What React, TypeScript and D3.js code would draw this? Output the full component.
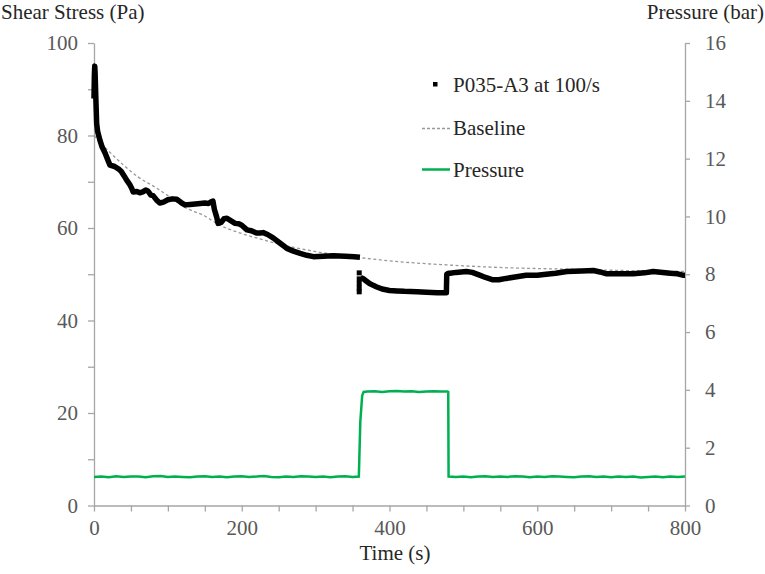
import React, { useEffect, useRef } from 'react'
import * as d3 from 'd3'

// Shear stress (Pa), before the pressure step
const shearTime1 = [0, 0.5, 1, 1.5, 2.5, 3.6, 5, 8, 11, 15, 18, 21.6, 28, 33, 37, 41, 44, 48, 51, 53, 58, 62, 66, 70, 73, 77, 80, 85, 89, 94, 100, 106, 112, 118, 123, 130, 137, 144, 150, 155, 159, 161, 163, 166, 168, 172, 176, 180, 185, 191, 196, 200, 207, 213, 220, 225, 229, 235, 243, 248, 252, 257, 261, 270, 279, 288, 297, 310, 324, 340, 352, 360]
const shearValue1 = [88, 93, 95, 93.5, 88, 82.6, 80.8, 79, 77.5, 76.2, 75, 73.6, 73.3, 72.8, 72.2, 71.2, 70.4, 69.5, 68.6, 67.8, 67.9, 67.6, 67.8, 68.2, 68.0, 67.1, 67.0, 66.0, 65.4, 65.6, 66.1, 66.3, 66.2, 65.5, 65, 65.1, 65.2, 65.3, 65.4, 65.3, 65.7, 65.8, 64, 62.4, 61, 61.2, 62, 62.1, 61.6, 61, 60.9, 60.6, 59.6, 59.4, 58.9, 58.9, 59, 58.6, 57.8, 57.2, 56.7, 56.1, 55.6, 55, 54.5, 54.1, 53.8, 53.9, 54, 53.9, 53.8, 53.7]

// isolated points at the start of the step
const shearDotTime = [359, 359, 359, 359, 359]
const shearDotValue = [50.3, 49, 48, 47, 46.2]

// after the step
const shearTime2 = [361, 364, 368, 373, 378, 382, 390, 400, 410, 420, 437, 450, 465, 477, 477.5, 480, 482, 490, 504, 512, 522, 530, 540, 548, 558, 570, 585, 600, 612, 625, 640, 660, 676, 685, 694, 710, 730, 745, 757, 770, 780, 790, 797, 800]
const shearValue2 = [49.3, 49.1, 48.6, 48, 47.6, 47.3, 46.8, 46.5, 46.4, 46.3, 46.2, 46.1, 46, 46, 50, 50.2, 50.2, 50.4, 50.6, 50.4, 49.8, 49.3, 48.8, 48.8, 49.1, 49.4, 49.8, 49.8, 50, 50.2, 50.6, 50.7, 50.8, 50.5, 50.1, 50.1, 50.1, 50.3, 50.6, 50.4, 50.2, 50.1, 49.8, 49.8]

// dashed baseline (Pa)
const baseTime = [0, 10, 20, 40, 60, 85, 100, 125, 150, 168, 200, 230, 265, 300, 360, 414, 480, 560, 640, 720, 800]
const baseValue = [80, 78.2, 76.6, 73.6, 71, 68.6, 67, 64.3, 62.6, 60.8, 58.8, 57.4, 56, 54.9, 53.6, 52.7, 52, 51.4, 51.1, 50.8, 50.6]

// pressure (bar)
const pressureTime = [
    0, 10, 20, 30, 40, 50, 60, 70, 80, 90, 100, 110, 120, 130, 140, 150, 160, 170, 180, 190, 200, 210, 220, 230, 240, 250, 260, 270, 280, 290, 300, 310, 320, 330, 340, 350,
    358.5, 360.5, 363, 365,
    370, 380, 390, 400, 410, 420, 430, 440, 450, 460, 470, 478, 479.5, 480,
    490, 500, 510, 520, 530, 540, 550, 560, 570, 580, 590, 600, 610, 620, 630, 640, 650, 660, 670, 680, 690, 700, 710, 720, 730, 740, 750, 760, 770, 780, 790, 800
]
const pressureValue = [
    0.99, 1.0, 0.98, 1.01, 0.99, 1.0, 1.0, 0.98, 1.01, 1.02, 0.99, 1.0, 0.99, 0.98, 1.0, 1.01, 0.99, 1.0, 0.98, 1.0, 1.01, 0.99, 1.0, 1.02, 0.99, 0.98, 1.0, 0.99, 1.01, 1.0, 0.99, 1.0, 0.98, 1.0, 1.01, 0.99,
    1.0, 2.9, 3.8, 3.93,
    3.94, 3.95, 3.93, 3.95, 3.96, 3.94, 3.95, 3.93, 3.94, 3.95, 3.94, 3.94, 3.93, 1.0,
    0.99, 1.0, 0.98, 1.0, 1.01, 0.99, 1.0, 0.99, 1.01, 1.0, 0.98, 1.0, 0.99, 1.01, 1.0, 0.99, 0.98, 1.0, 1.01, 0.99, 1.0, 0.98, 1.0, 0.99, 1.0, 0.97, 0.99, 1.0, 0.98, 1.0, 0.99, 1.0
]

const legendLabels = ['P035-A3 at 100/s', 'Baseline', 'Pressure']

const width = 765
const height = 574
const font = '"Liberation Serif", "Times New Roman", serif'
const axisColor = '#a6a6a6'
const tickText = '#595959'
const titleText = '#262626'
const green = '#00b050'

const App = () => {
    const ref = useRef(null)

    useEffect(() => {
        const svg = d3.select(ref.current)
        svg.selectAll('*').remove()

        const x = d3.scaleLinear().domain([0, 800]).range([94, 685])
        const yL = d3.scaleLinear().domain([0, 100]).range([505.5, 43])
        const yR = d3.scaleLinear().domain([0, 16]).range([505.5, 43])

        const styleAxis = g => {
            g.selectAll('path').attr('stroke', axisColor).attr('stroke-width', 1.3)
            g.selectAll('line').attr('stroke', axisColor).attr('stroke-width', 1.3)
            g.selectAll('text').attr('fill', tickText).attr('font-family', font).attr('font-size', 21)
        }

        svg.append('g')
            .attr('transform', `translate(${x(0)},0)`)
            .call(
                d3.axisLeft(yL)
                    .tickValues(d3.range(0, 101, 10))
                    .tickFormat(d => (d % 20 === 0 ? String(d) : ''))
                    .tickSize(6)
                    .tickSizeOuter(0)
                    .tickPadding(10)
            )
            .call(styleAxis)

        svg.append('g')
            .attr('transform', `translate(${x(800)},0)`)
            .call(
                d3.axisRight(yR)
                    .tickValues(d3.range(0, 17, 2))
                    .tickFormat(d3.format('d'))
                    .tickSize(5)
                    .tickSizeOuter(0)
                    .tickPadding(15)
            )
            .call(styleAxis)

        svg.append('g')
            .attr('transform', `translate(0,${yL(0)})`)
            .call(
                d3.axisBottom(x)
                    .tickValues(d3.range(0, 801, 50))
                    .tickFormat(d => (d % 200 === 0 ? String(d) : ''))
                    .tickSize(6)
                    .tickSizeOuter(0)
                    .tickPadding(9)
            )
            .call(styleAxis)

        // baseline
        const baseLine = d3.line<number>().x(i => x(baseTime[i])).y(i => yL(baseValue[i])).curve(d3.curveMonotoneX)
        svg.append('path')
            .attr('d', baseLine(d3.range(baseTime.length)))
            .attr('fill', 'none')
            .attr('stroke', '#999999')
            .attr('stroke-width', 1.3)
            .attr('stroke-dasharray', '3,2.5')

        // pressure
        const pLine = d3.line<number>().x(i => x(pressureTime[i])).y(i => yR(pressureValue[i]))
        svg.append('path')
            .attr('d', pLine(d3.range(pressureTime.length)))
            .attr('fill', 'none')
            .attr('stroke', green)
            .attr('stroke-width', 2.5)

        // shear stress
        const drawShear = (t: number[], v: number[]) => {
            const line = d3.line<number>().x(i => x(t[i])).y(i => yL(v[i]))
            svg.append('path')
                .attr('d', line(d3.range(t.length)))
                .attr('fill', 'none')
                .attr('stroke', '#000')
                .attr('stroke-width', 5.5)
                .attr('stroke-linejoin', 'round')
        }
        drawShear(shearTime1, shearValue1)
        drawShear(shearTime2, shearValue2)

        svg.append('g')
            .selectAll('rect')
            .data(d3.range(shearDotTime.length))
            .join('rect')
            .attr('x', i => x(shearDotTime[i]) - 2.5)
            .attr('y', i => yL(shearDotValue[i]) - 2.5)
            .attr('width', 5)
            .attr('height', 5)
            .attr('fill', '#000')

        // titles
        const title = (tx, ty, anchor, label) =>
            svg.append('text')
                .attr('x', tx)
                .attr('y', ty)
                .attr('text-anchor', anchor)
                .attr('font-family', font)
                .attr('font-size', 21)
                .attr('fill', titleText)
                .text(label)
        title(1, 18.5, 'start', 'Shear Stress (Pa)')
        title(764, 18.5, 'end', 'Pressure (bar)')
        title(395, 560, 'middle', 'Time (s)')

        // legend
        const legend = svg.append('g')
        legend.append('rect').attr('x', 433).attr('y', 82).attr('width', 4.5).attr('height', 4.5).attr('fill', '#000')
        legend.append('line')
            .attr('x1', 422).attr('x2', 450).attr('y1', 128.5).attr('y2', 128.5)
            .attr('stroke', '#999999').attr('stroke-width', 1.3).attr('stroke-dasharray', '3,2')
        legend.append('line')
            .attr('x1', 422).attr('x2', 450).attr('y1', 169.5).attr('y2', 169.5)
            .attr('stroke', green).attr('stroke-width', 2.5)
        legend.selectAll('text')
            .data(legendLabels)
            .join('text')
            .attr('x', 453)
            .attr('y', (d, i) => [92, 135, 177][i])
            .attr('font-family', font)
            .attr('font-size', 21)
            .attr('fill', titleText)
            .text(d => d)
    }, [])

    return (
        <svg
            ref={ref}
            width={width}
            height={height}
            style={{ position: 'absolute', left: 0, top: 0, background: '#fff' }}
        />
    )
}

export default App
